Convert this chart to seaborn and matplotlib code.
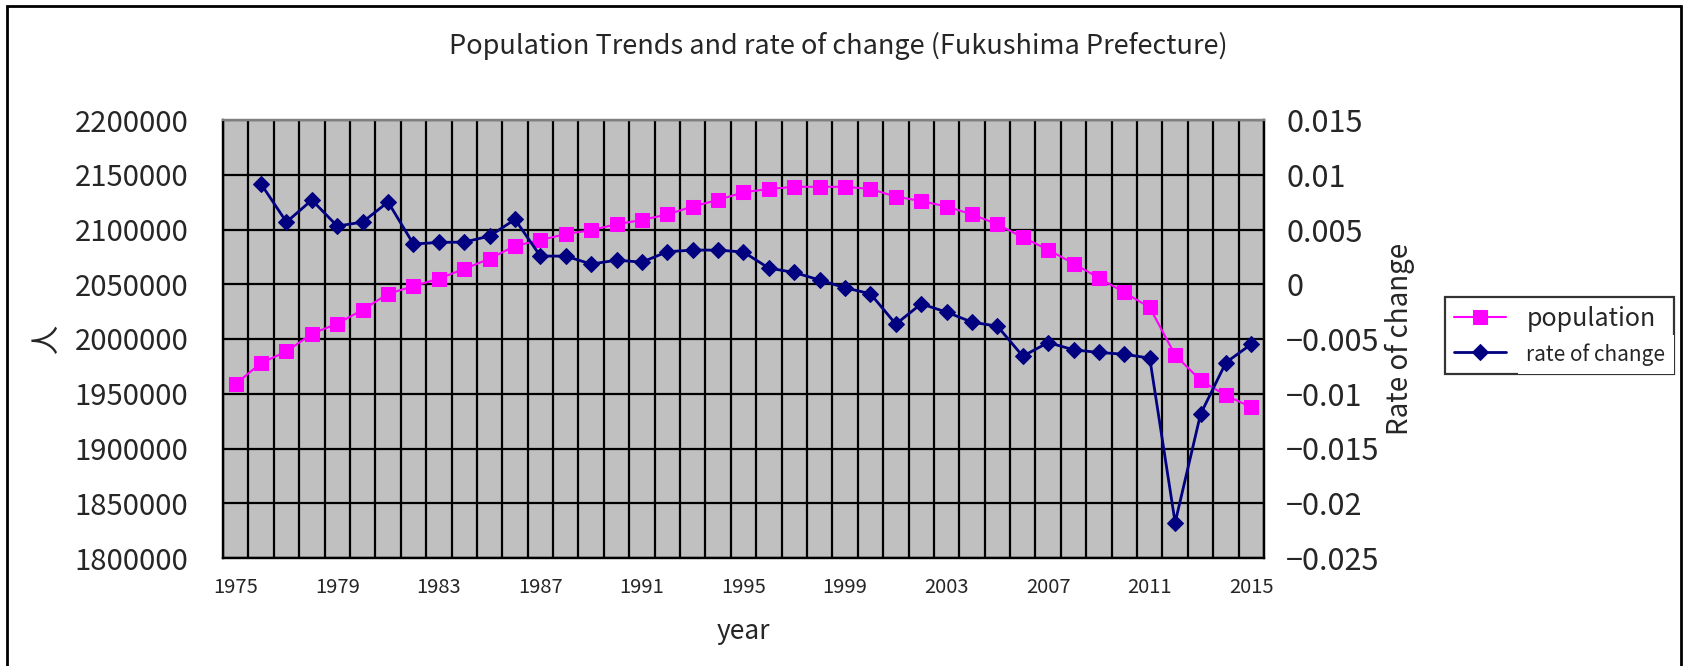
import numpy as np
import pandas as pd
import matplotlib
matplotlib.use("Agg")
import matplotlib.pyplot as plt
import matplotlib.patches as mpatches
from matplotlib.ticker import FixedLocator
import seaborn as sns

years = list(range(1975, 2016))
population = [1959000, 1978100, 1988600, 2004800, 2014000, 2026600, 2041300, 2048200,
              2055100, 2064000, 2073300, 2085000, 2090400, 2095800, 2099400, 2104800,
              2108700, 2113800, 2121000, 2127000, 2134000, 2137000, 2139000, 2139000,
              2139000, 2137000, 2130000, 2126000, 2121000, 2113800, 2104800, 2092800,
              2081500, 2068900, 2055700, 2042500, 2028800, 1985300, 1962300, 1948500,
              1937700]
rate_of_change = [np.nan, 0.00915, 0.00568, 0.00769, 0.00531, 0.00568, 0.00751, 0.00367,
                  0.00382, 0.00385, 0.00440, 0.00592, 0.00257, 0.00257, 0.00184, 0.00220,
                  0.00202, 0.00297, 0.00312, 0.00312, 0.00294, 0.00147, 0.00108, 0.00038,
                  -0.00032, -0.00087, -0.00364, -0.00179, -0.00255, -0.00346, -0.00383,
                  -0.00657, -0.00532, -0.00599, -0.00623, -0.00639, -0.00675, -0.02177,
                  -0.01187, -0.00715, -0.00547]
xtick_years = list(range(1975, 2016, 4))
pop_ticks = [1800000, 1850000, 1900000, 1950000, 2000000, 2050000, 2100000, 2150000, 2200000]
rate_ticks = [-0.025, -0.02, -0.015, -0.01, -0.005, 0, 0.005, 0.01, 0.015]
rate_tick_labels = ["\u22120.025", "\u22120.02", "\u22120.015", "\u22120.01", "\u22120.005",
                    "0", "0.005", "0.01", "0.015"]

title = "Population Trends and rate of change (Fukushima Prefecture)"
series_names = ["population", "rate of change"]

df = pd.DataFrame({"year": years, "population": population, "rate": rate_of_change})

sns.set_style("white")
plt.rcParams['font.family'] = ['Noto Sans CJK JP', 'DejaVu Sans']

W, H = 1685, 666
fig = plt.figure(figsize=(W / 100, H / 100), dpi=100)
L, R, T, B = 223, 1264, 120, 558
ax = fig.add_axes([L / W, 1 - B / H, (R - L) / W, (B - T) / H])
ax.set_facecolor("#C0C0C0")

sns.lineplot(data=df, x="year", y="population", ax=ax, color="#FF00FF", marker="s",
             markersize=10, markeredgecolor="#FF00FF", linewidth=1.5,
             label=series_names[0], legend=False, zorder=3)

ax2 = ax.twinx()
sns.lineplot(data=df.dropna(), x="year", y="rate", ax=ax2, color="#000080", marker="D",
             markersize=8.5, markeredgecolor="#000080", linewidth=2,
             label=series_names[1], legend=False, zorder=4)

ax.set_xlim(1974.5, 2015.5)
ax.set_ylim(1800000, 2200000)
ax2.set_ylim(-0.025, 0.015)

ax.yaxis.set_major_locator(FixedLocator(pop_ticks))
ax.set_yticklabels([str(v) for v in pop_ticks])
ax.xaxis.set_major_locator(FixedLocator(xtick_years))
ax.set_xticklabels([str(y) for y in xtick_years])
ax.xaxis.set_minor_locator(FixedLocator([y - 0.5 for y in years] + [2015.5]))
ax2.yaxis.set_major_locator(FixedLocator(rate_ticks))
ax2.set_yticklabels(rate_tick_labels)

ax.grid(False)
ax2.grid(False)
ax.yaxis.grid(True, which="major", color="black", linewidth=1.6, zorder=1)
ax.xaxis.grid(True, which="minor", color="black", linewidth=1.6, zorder=1)
ax.set_axisbelow(True)

ax.tick_params(axis="y", which="both", length=0, labelsize=21, pad=25)
ax.tick_params(axis="x", which="both", length=0, labelsize=14.5, pad=14)
ax2.tick_params(axis="y", which="both", length=0, labelsize=22, pad=16)

for a in (ax, ax2):
    for s in a.spines.values():
        s.set_color("black")
        s.set_linewidth(1.6)
    a.spines["top"].set_color("#808080")

ax.set_xlabel("year", fontsize=19)
ax.xaxis.set_label_coords((743 - L) / (R - L), 1 - (618 - T) / (B - T))
ax.set_ylabel("人", fontsize=21)
ax.yaxis.set_label_coords((62 - L) / (R - L), 0.5)
ax2.set_ylabel("Rate of change", fontsize=20)
ax2.yaxis.set_label_coords((1385 - L) / (R - L), 0.5)

fig.text(838 / W, 1 - 46 / H, title, ha="center", va="center", fontsize=19.5)

h1, l1 = ax.get_legend_handles_labels()
h2, l2 = ax2.get_legend_handles_labels()
leg = fig.legend(h1 + h2, l1 + l2, loc="upper left",
                 bbox_to_anchor=(1445 / W, 1 - 297 / H), frameon=True, fancybox=False,
                 edgecolor="black", fontsize=18, handlelength=2.1, borderpad=0.35,
                 labelspacing=0.45, handletextpad=0.8, borderaxespad=0)
leg.get_frame().set_linewidth(1.6)
txt = leg.get_texts()[1]
txt.set_fontsize(15)
txt.set_bbox(dict(facecolor="white", edgecolor="none", pad=6))

frame = mpatches.Rectangle((7 / W, -0.05), (1681 - 7) / W, 1 - 6 / H + 0.05,
                           transform=fig.transFigure, fill=False, edgecolor="black",
                           linewidth=2, clip_on=False)
fig.patches.append(frame)

fig.savefig("out.png", dpi=100)
